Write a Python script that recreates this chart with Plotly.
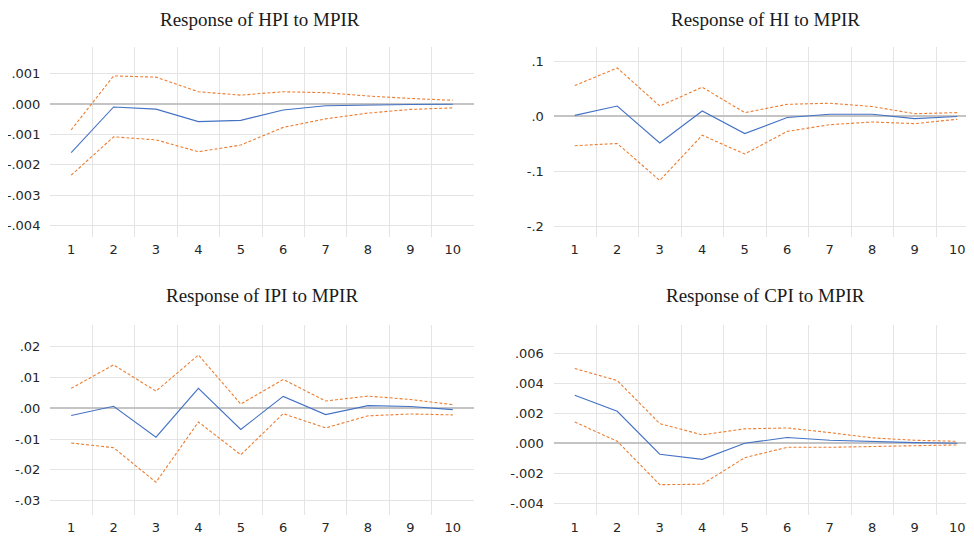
import plotly.graph_objects as go

periods = [1, 2, 3, 4, 5, 6, 7, 8, 9, 10]

titles = ["Response of HPI to MPIR", "Response of HI to MPIR",
          "Response of IPI to MPIR", "Response of CPI to MPIR"]

hpi_resp = [-0.00160, -0.00010, -0.00017, -0.00058, -0.00054, -0.00020, -0.00006, -0.00003, -0.00002, -0.00001]
hpi_upper = [-0.00085, 0.00092, 0.00088, 0.00040, 0.00029, 0.00040, 0.00037, 0.00026, 0.00018, 0.00012]
hpi_lower = [-0.00234, -0.00108, -0.00118, -0.00157, -0.00135, -0.00077, -0.00049, -0.00030, -0.00018, -0.00013]

hi_resp = [0.002, 0.019, -0.048, 0.010, -0.031, -0.002, 0.004, 0.004, -0.004, 0.000]
hi_upper = [0.056, 0.088, 0.019, 0.053, 0.007, 0.022, 0.024, 0.018, 0.005, 0.007]
hi_lower = [-0.053, -0.049, -0.116, -0.034, -0.068, -0.027, -0.015, -0.010, -0.013, -0.005]

ipi_resp = [-0.0024, 0.0006, -0.0094, 0.0064, -0.0069, 0.0038, -0.0021, 0.0008, 0.0005, -0.0005]
ipi_upper = [0.0064, 0.0140, 0.0055, 0.0172, 0.0013, 0.0093, 0.0023, 0.0039, 0.0028, 0.0011]
ipi_lower = [-0.0113, -0.0128, -0.0240, -0.0045, -0.0151, -0.0018, -0.0064, -0.0025, -0.0019, -0.0022]

cpi_resp = [0.00320, 0.00213, -0.00073, -0.00107, 0.00000, 0.00038, 0.00020, 0.00011, 0.00004, 0.00000]
cpi_upper = [0.00498, 0.00418, 0.00131, 0.00056, 0.00096, 0.00102, 0.00071, 0.00036, 0.00020, 0.00013]
cpi_lower = [0.00142, 0.00013, -0.00276, -0.00273, -0.00096, -0.00027, -0.00027, -0.00022, -0.00020, -0.00011]

hpi_ticks = [0.001, 0.0, -0.001, -0.002, -0.003, -0.004]
hpi_ticklabels = [".001", ".000", "-.001", "-.002", "-.003", "-.004"]
hi_ticks = [0.1, 0.0, -0.1, -0.2]
hi_ticklabels = [".1", ".0", "-.1", "-.2"]
ipi_ticks = [0.02, 0.01, 0.0, -0.01, -0.02, -0.03]
ipi_ticklabels = [".02", ".01", ".00", "-.01", "-.02", "-.03"]
cpi_ticks = [0.006, 0.004, 0.002, 0.0, -0.002, -0.004]
cpi_ticklabels = [".006", ".004", ".002", ".000", "-.002", "-.004"]

panels = [
    (hpi_resp, hpi_upper, hpi_lower, hpi_ticks, hpi_ticklabels, [-0.00436, 0.00188]),
    (hi_resp, hi_upper, hi_lower, hi_ticks, hi_ticklabels, [-0.218, 0.1265]),
    (ipi_resp, ipi_upper, ipi_lower, ipi_ticks, ipi_ticklabels, [-0.0345, 0.027]),
    (cpi_resp, cpi_upper, cpi_lower, cpi_ticks, cpi_ticklabels, [-0.00476, 0.0079]),
]

# page body has an 8px margin, so the figure is drawn 8px smaller and offset
OFF = 8
W, H = 974 - OFF, 537 - OFF


def px_x(v):
    return (v - OFF) / W


def px_y(v):
    return 1 - (v - OFF) / H


x_doms = [[px_x(50), px_x(474)], [px_x(553.5), 1.0]]
y_doms = [[px_y(236.7), px_y(46.7)], [px_y(514.7), px_y(324.7)]]
x_ranges = [[0.5, 10.5], [0.5, 10.394]]

BLUE = "#4472C4"
ORANGE = "#ED7D31"
GRID = "#E4E4E4"
TICKFONT = dict(family="DejaVu Sans", size=13, color="#262626")

fig = go.Figure()
layout = {}
for i, (resp, up, lo, tv, tt, yr) in enumerate(panels):
    row, col = divmod(i, 2)
    n = "" if i == 0 else str(i + 1)
    xa, ya = "x" + n, "y" + n
    for ys, color, dash in ((up, ORANGE, "3px,2px"), (lo, ORANGE, "3px,2px"), (resp, BLUE, "solid")):
        fig.add_trace(go.Scatter(x=periods, y=ys, mode="lines", xaxis=xa, yaxis=ya,
                                 line=dict(color=color, width=1.1, dash=dash),
                                 showlegend=False, hoverinfo="skip"))
    layout["xaxis" + n] = dict(domain=x_doms[col], anchor=ya, range=x_ranges[col],
                               tickmode="array", tickvals=periods, ticktext=[str(p) for p in periods],
                               showgrid=False, zeroline=False, showline=False,
                               ticks="outside", ticklen=1, tickcolor="rgba(0,0,0,0)",
                               tickfont=TICKFONT,
                               minor=dict(tickmode="array", tickvals=[p + 0.5 for p in periods[:-1]],
                                          showgrid=True, gridcolor=GRID, gridwidth=1, ticklen=0))
    layout["yaxis" + n] = dict(domain=y_doms[row], anchor=xa, range=yr,
                               tickmode="array", tickvals=tv, ticktext=tt,
                               showgrid=True, gridcolor=GRID, gridwidth=1,
                               zeroline=True, zerolinecolor="#C4C4C4", zerolinewidth=2,
                               showline=False, ticks="outside", ticklen=6, tickcolor="rgba(0,0,0,0)",
                               tickfont=TICKFONT)

title_pos = [(px_x(260), 1.0, "top"), (px_x(765), 1.0, "top"),
             (px_x(262), px_y(295), "middle"), (px_x(765), px_y(295), "middle")]
annotations = []
for t, (ax, ay, anc) in zip(titles, title_pos):
    annotations.append(dict(text=t, x=ax, y=ay, xref="paper", yref="paper", showarrow=False,
                            xanchor="center", yanchor=anc, borderpad=0,
                            font=dict(family="Liberation Serif", size=19, color="#1a1a1a")))

fig.update_layout(width=W, height=H, margin=dict(l=0, r=0, t=0, b=0),
                  paper_bgcolor="white", plot_bgcolor="white",
                  annotations=annotations, **layout)

fig.write_html("out.html")
